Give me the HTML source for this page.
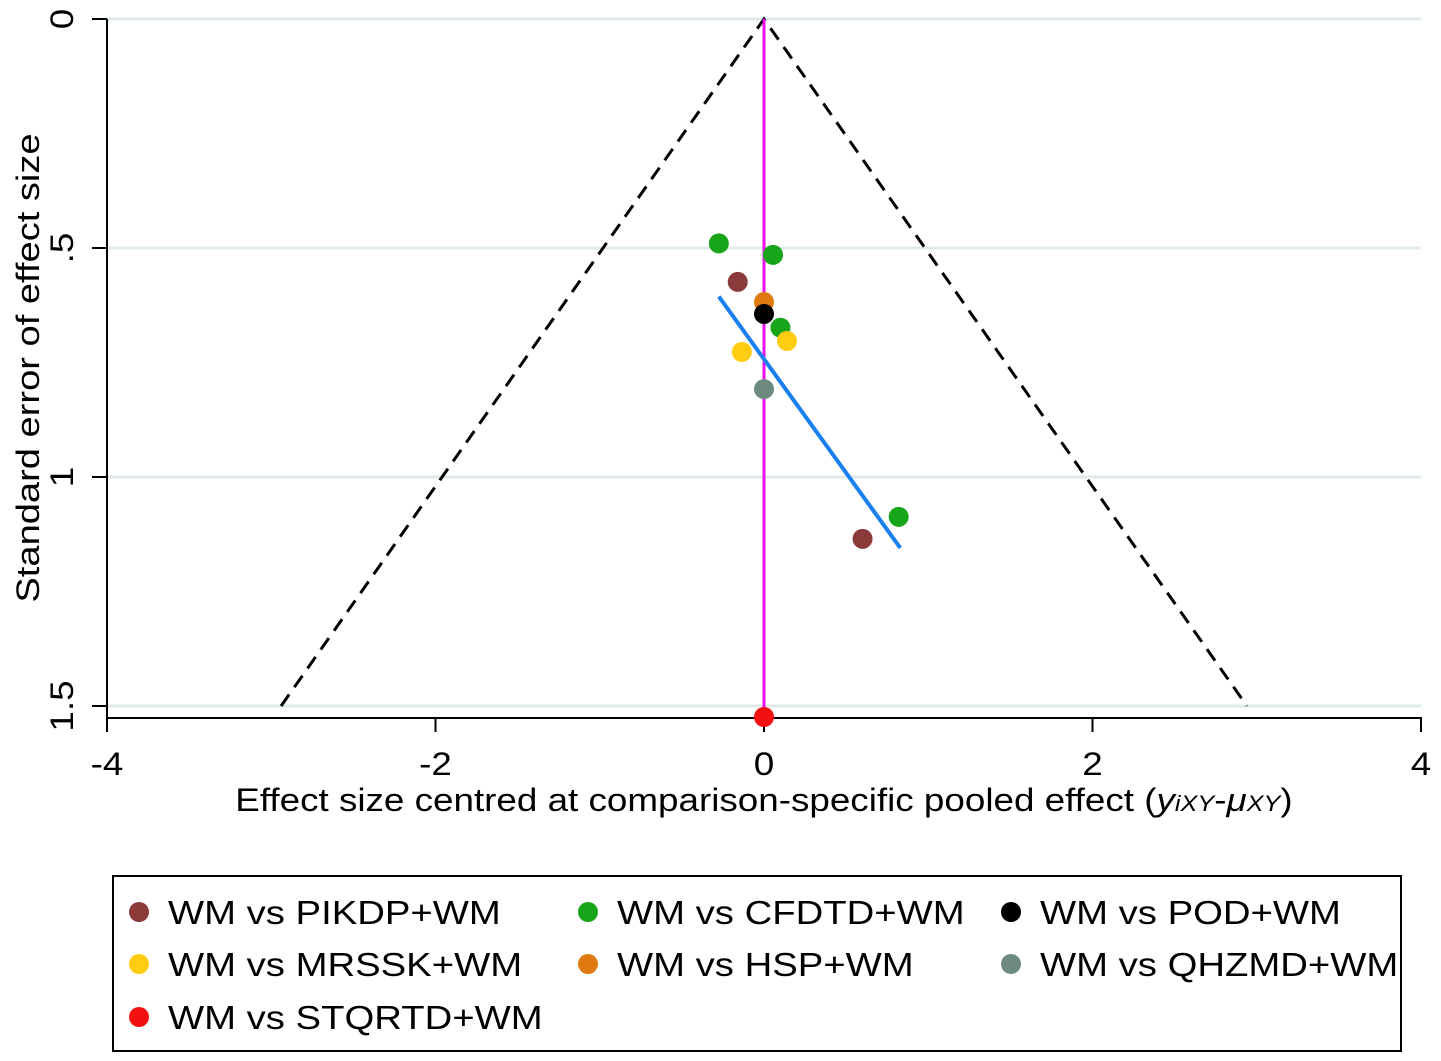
<!DOCTYPE html>
<html><head><meta charset="utf-8">
<style>
html,body{margin:0;padding:0;background:#fff;}
svg{display:block;font-family:"Liberation Sans",Arial,sans-serif;}
</style></head>
<body>
<svg id="chart" width="1441" height="1061" viewBox="0 0 1441 1061">
<g id="grid"></g>
<g id="axes"></g>
<g id="marks"></g>
<g id="legend"></g>
</svg>
<script>
const xTicks = [-4, -2, 0, 2, 4];
const xTickLabels = ["-4", "-2", "0", "2", "4"];
const yTicks = [0, 0.5, 1, 1.5];
const yTickLabels = ["0", ".5", "1", "1.5"];
const seriesNames = ["WM vs PIKDP+WM","WM vs CFDTD+WM","WM vs POD+WM","WM vs MRSSK+WM","WM vs HSP+WM","WM vs QHZMD+WM","WM vs STQRTD+WM"];
const seriesColors = ["#8b3a3a","#19a519","#000000","#ffcc12","#e07a10","#6e8a7e","#f21010"];
const pointX = [-0.275, 0.055, -0.16, 0, 0, 0.1, 0.14, -0.135, 0, 0.82, 0.6, 0];
const pointSE = [0.49, 0.515, 0.574, 0.618, 0.644, 0.674, 0.703, 0.727, 0.808, 1.087, 1.135, 1.524];
const pointSeries = [1, 1, 0, 4, 2, 1, 3, 3, 5, 1, 0, 6];
const fitX = [-0.275, 0.83];
const fitSE = [0.606, 1.155];
const ciZ = 1.96;
const seMax = 1.5;

const NS = "http://www.w3.org/2000/svg";
const X0 = 107, X1 = 1421, Y0 = 19, Ypx = 458;
function sx(v){ return 764 + v * (X1 - X0) / 8; }
function sy(v){ return Y0 + v * Ypx; }
function mk(tag, attrs, parent, text){
  const e = document.createElementNS(NS, tag);
  for (const k in attrs) e.setAttribute(k, attrs[k]);
  if (text !== undefined) e.textContent = text;
  parent.appendChild(e); return e;
}
function stretch(t, f){
  const w = t.getComputedTextLength();
  t.setAttribute('textLength', (w * f).toFixed(1));
  t.setAttribute('lengthAdjust', 'spacingAndGlyphs');
}
const grid = document.getElementById('grid'), axes = document.getElementById('axes'),
      marks = document.getElementById('marks'), legend = document.getElementById('legend');

yTicks.forEach((t, i) => {
  const g = mk('line', {x1: X0, x2: X1, y1: sy(t), y2: sy(t), stroke: '#dfeaea', 'stroke-width': 3}, grid);
  
  
  const tk = mk('line', {x1: 92, x2: X0, y1: sy(t), y2: sy(t), stroke: '#000', 'stroke-width': 2}, axes);
  
  
  const y = sy(t);
  const lb = mk('text', {x: 62, y: y, 'font-size': 32, 'text-anchor': 'middle', 'dominant-baseline': 'central', transform: `rotate(-90 62 ${y})`}, axes, yTickLabels[i]);
  
  
  stretch(lb, 1.15);
});
const ya = mk('line', {x1: X0, x2: X0, y1: Y0, y2: 718, stroke: '#000', 'stroke-width': 2}, axes);


const xa = mk('line', {x1: X0 - 1, x2: X1 + 1, y1: 718, y2: 718, stroke: '#000', 'stroke-width': 2}, axes);


xTicks.forEach((t, i) => {
  const tk = mk('line', {x1: sx(t), x2: sx(t), y1: 718, y2: 732, stroke: '#000', 'stroke-width': 2}, axes);
  
  
  const lb = mk('text', {x: sx(t), y: 775, 'font-size': 32, 'text-anchor': 'middle'}, axes, xTickLabels[i]);
  
  
  stretch(lb, 1.15);
});
const xt = mk('text', {x: 764, y: 811, 'font-size': 32, 'text-anchor': 'middle'}, axes);


xt.innerHTML = 'Effect size centred at comparison-specific pooled effect (<tspan font-style="italic">y</tspan><tspan font-style="italic" font-size="22">iXY</tspan>-<tspan font-style="italic">μ</tspan><tspan font-style="italic" font-size="22">XY</tspan>)';
stretch(xt, 1.15);
const yt = mk('text', {x: 28, y: 368, 'font-size': 32, 'text-anchor': 'middle', 'dominant-baseline': 'central', transform: 'rotate(-90 28 368)'}, axes, 'Standard error of effect size');


stretch(yt, 1.19);

// funnel
const fl = mk('polyline', {points: `${sx(-ciZ*seMax)},${sy(seMax)} ${sx(0)},${sy(0)} ${sx(ciZ*seMax)},${sy(seMax)}`, fill: 'none', stroke: '#000', 'stroke-width': 3, 'stroke-dasharray': '14 9'}, marks);


const vl = mk('line', {x1: sx(0), x2: sx(0), y1: Y0, y2: 718, stroke: '#ee10ee', 'stroke-width': 3}, marks);


const bl = mk('line', {x1: sx(fitX[0]), y1: sy(fitSE[0]), x2: sx(fitX[1]), y2: sy(fitSE[1]), stroke: '#1a7ff0', 'stroke-width': 4}, marks);


pointX.forEach((v, i) => {
  const c = mk('circle', {cx: sx(v), cy: sy(pointSE[i]), r: 10, fill: seriesColors[pointSeries[i]]}, marks);
  
  
});

// legend
const lb = mk('rect', {x: 113, y: 876, width: 1288, height: 175, fill: '#fff', stroke: '#000', 'stroke-width': 2}, legend);


const colX = [139, 588, 1011], rowY = [912, 964, 1017];
seriesNames.forEach((n, i) => {
  const cx = colX[i % 3], cy = rowY[Math.floor(i / 3)];
  const g = mk('g', {}, legend);
  
  
  mk('circle', {cx: cx, cy: cy, r: 10, fill: seriesColors[i]}, g);
  const t = mk('text', {x: cx + 29, y: cy + 12, 'font-size': 33}, g, n);
  stretch(t, 1.16);
});
</script>
</body></html>
